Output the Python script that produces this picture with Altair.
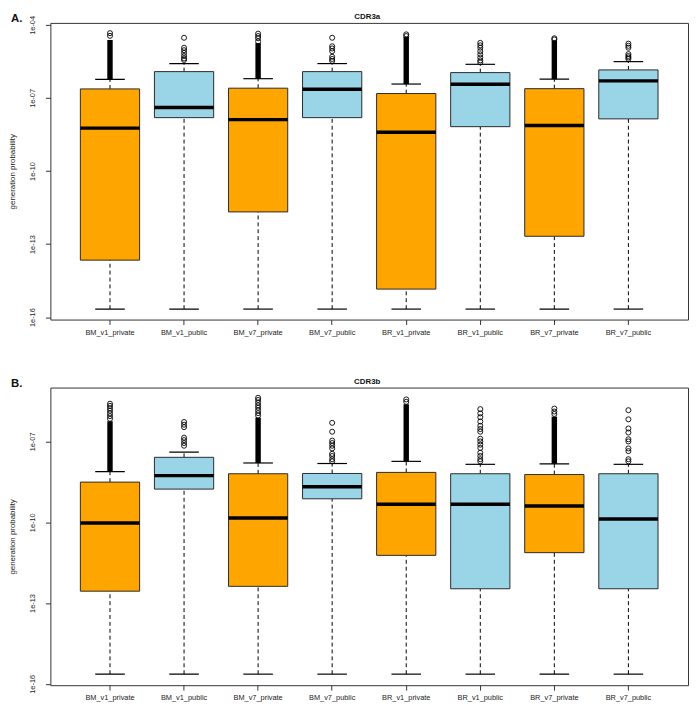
import altair as alt
import numpy as np
import pandas as pd

cats = ["BM_v1_private", "BM_v1_public", "BM_v7_private", "BM_v7_public",
        "BR_v1_private", "BR_v1_public", "BR_v7_private", "BR_v7_public"]
kind = ["private", "public", "private", "public", "private", "public", "private", "public"]

# ---- Panel A: CDR3a (log10 of generation probability)
a_lo = [-15.67, -15.67, -15.67, -15.67, -15.67, -15.67, -15.67, -15.67]
a_q1 = [-13.66, -7.81, -11.68, -7.81, -14.85, -8.18, -12.68, -7.86]
a_med = [-8.24, -7.39, -7.89, -6.64, -8.41, -6.44, -8.13, -6.30]
a_q3 = [-6.63, -5.92, -6.60, -5.92, -6.82, -5.96, -6.62, -5.85]
a_hi = [-6.24, -5.59, -6.21, -5.59, -6.43, -5.62, -6.23, -5.51]
a_dense_top = {"BM_v1_private": -4.62, "BM_v7_private": -4.75,
               "BR_v1_private": -4.50, "BR_v7_private": -4.64}
a_out = {
    "BM_v1_private": [-4.34, -4.45],
    "BM_v1_public": [-4.53, -4.94, -5.04, -5.15, -5.28, -5.38, -5.44],
    "BM_v7_private": [-4.36, -4.46, -4.55, -4.68],
    "BM_v7_public": [-4.53, -4.88, -4.97, -5.08, -5.31, -5.40, -5.48],
    "BR_v1_private": [-4.39, -4.46],
    "BR_v1_public": [-4.74, -4.84, -4.94, -5.08, -5.21, -5.34, -5.46, -5.54],
    "BR_v7_private": [-4.55, -4.60],
    "BR_v7_public": [-4.77, -4.86, -4.94, -5.20, -5.28, -5.34, -5.40],
}
a_ticks = [1e-16, 1e-13, 1e-10, 1e-07, 1e-04]
a_domain = [-16.10, -3.92]

# ---- Panel B: CDR3b
b_lo = [-15.64, -15.64, -15.64, -15.64, -15.64, -15.64, -15.64, -15.64]
b_q1 = [-12.56, -8.77, -12.38, -9.13, -11.23, -12.47, -11.13, -12.47]
b_med = [-10.03, -8.27, -9.84, -8.68, -9.33, -9.33, -9.40, -9.88]
b_q3 = [-8.51, -7.59, -8.20, -8.19, -8.15, -8.20, -8.23, -8.20]
b_hi = [-8.12, -7.40, -7.80, -7.82, -7.74, -7.85, -7.83, -7.85]
b_dense_top = {"BM_v1_private": -6.25, "BM_v7_private": -6.12,
               "BR_v1_private": -5.62, "BR_v7_private": -6.08}
b_out = {
    "BM_v1_private": [-5.60, -5.68, -5.77, -5.86, -5.96, -6.06, -6.16],
    "BM_v1_public": [-6.28, -6.38, -6.47, -6.86, -6.95, -7.06, -7.16],
    "BM_v7_private": [-5.38, -5.46, -5.56, -5.66, -5.75, -5.85, -5.95, -6.04],
    "BM_v7_public": [-6.31, -6.64, -6.97, -7.06, -7.16, -7.26, -7.46, -7.54, -7.66, -7.74],
    "BR_v1_private": [-5.44, -5.53],
    "BR_v1_public": [-5.80, -5.96, -6.10, -6.26, -6.42, -6.54, -6.64, -6.90, -7.00,
                     -7.12, -7.24, -7.42, -7.54, -7.66, -7.74],
    "BR_v7_private": [-5.78, -5.89, -5.98],
    "BR_v7_public": [-5.84, -6.18, -6.52, -6.67, -6.92, -7.00, -7.26, -7.36, -7.66, -7.74],
}
b_ticks = [1e-16, 1e-13, 1e-10, 1e-07]
b_domain = [-16.05, -5.0]

FONT = "Liberation Sans"
W = 647
ORANGE = "#FFA500"
BLUE = "#99D5E6"


def panel(lo, q1, med, q3, hi, dense_top, outs, ticks, dom, height, title, letter):
    p = lambda v: 10.0 ** np.array(v, dtype=float)
    df = pd.DataFrame({"cat": cats, "kind": kind, "lo": p(lo), "q1": p(q1),
                       "med": p(med), "q3": p(q3), "hi": p(hi)})
    dd = pd.DataFrame({"cat": list(dense_top.keys()),
                       "a": [10.0 ** hi[cats.index(c)] for c in dense_top],
                       "b": p(list(dense_top.values()))})
    orows = [{"cat": c, "v": 10.0 ** v} for c, vs in outs.items() for v in vs]
    od = pd.DataFrame(orows)

    x = alt.X("cat:N", sort=cats,
              scale=alt.Scale(paddingInner=0.2, paddingOuter=0.405),
              axis=alt.Axis(title=None, labelAngle=0, labelFontSize=7.5,
                            labelColor="#222", labelFont=FONT, tickSize=5,
                            tickColor="#333", domain=False, labelPadding=4,
                            grid=False))
    ysc = alt.Scale(type="log", domain=[10.0 ** dom[0], 10.0 ** dom[1]], nice=False)
    yax = alt.Axis(values=ticks, grid=False, domain=False, tickSize=5,
                   tickColor="#333", labelAngle=270, labelAlign="center",
                   labelBaseline="bottom", labelPadding=9, labelFontSize=7.5,
                   labelColor="#222", labelFont=FONT,
                   labelExpr="datum.value > 1e-9 ? replace(format(datum.value, '.0e'), 'e-', 'e-0') : format(datum.value, '.0e')",
                   titleFontSize=8, titleFontWeight="normal", titleColor="#222",
                   titleFont=FONT, titlePadding=12)
    ttl = "generation probability"

    def Y(f):
        return alt.Y(f, scale=ysc, axis=yax, title=ttl)

    base = alt.Chart(df)
    whisk_lo = base.mark_rule(color="black", strokeWidth=1, strokeDash=[4, 3]).encode(
        x=x, y=Y("lo:Q"), y2="q1:Q")
    whisk_hi = base.mark_rule(color="black", strokeWidth=1, strokeDash=[4, 3]).encode(
        x=x, y=Y("q3:Q"), y2="hi:Q")
    st_lo = base.mark_tick(color="black", size=30, thickness=1.2, opacity=1).encode(x=x, y=Y("lo:Q"))
    st_hi = base.mark_tick(color="black", size=30, thickness=1.2, opacity=1).encode(x=x, y=Y("hi:Q"))
    box = base.mark_bar(stroke="#2a2a2a", strokeWidth=1, opacity=1).encode(
        x=x, y=Y("q1:Q"), y2="q3:Q",
        color=alt.Color("kind:N", scale=alt.Scale(domain=["private", "public"],
                                                  range=[ORANGE, BLUE]), legend=None))
    medl = base.mark_tick(color="black", size=60, thickness=3.5, opacity=1).encode(x=x, y=Y("med:Q"))
    dense = alt.Chart(dd).mark_rule(color="black", strokeWidth=5.5).encode(
        x=x, y=Y("a:Q"), y2="b:Q")
    pts = alt.Chart(od).mark_point(shape="circle", filled=False, size=26, opacity=1,
                                   color="black", strokeWidth=0.9).encode(x=x, y=Y("v:Q"))
    one = alt.Data(values=[{}])
    t_title = alt.Chart(one).mark_text(text=title, font=FONT, fontSize=8,
                                       fontWeight="bold", align="center",
                                       baseline="alphabetic", color="#111").encode(
        x=alt.value(W / 2 - 2), y=alt.value(-3.5))
    t_letter = alt.Chart(one).mark_text(text=letter, font=FONT, fontSize=11.5,
                                        fontWeight="bold", align="left",
                                        baseline="alphabetic", color="#111").encode(
        x=alt.value(-40), y=alt.value(-0.5))
    return alt.layer(whisk_lo, whisk_hi, st_lo, st_hi, box, medl, dense, pts,
                     t_title, t_letter).properties(width=W, height=height)


pa = panel(a_lo, a_q1, a_med, a_q3, a_hi, a_dense_top, a_out, a_ticks, a_domain,
           301, "CDR3a", "A.")
pb = panel(b_lo, b_q1, b_med, b_q3, b_hi, b_dense_top, b_out, b_ticks, b_domain,
           302, "CDR3b", "B.")

chart = alt.vconcat(pa, pb, spacing=42).properties(padding=0).configure(
    font=FONT, view=alt.ViewConfig(stroke="#333", strokeWidth=1))

chart.save("out.html", embed_options={"renderer": "svg", "actions": False})
